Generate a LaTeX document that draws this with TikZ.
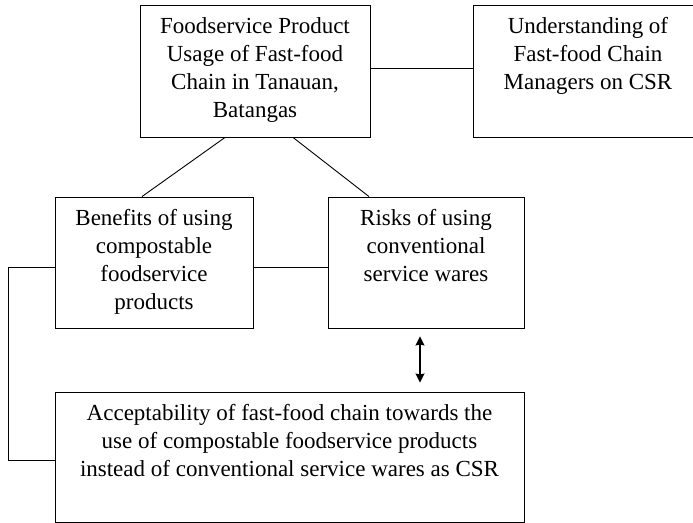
\documentclass[tikz,border=0pt]{standalone}
\usepackage{fontspec}
\setmainfont{Liberation Serif}
\usetikzlibrary{arrows.meta}
\usetikzlibrary{positioning}
\tikzset{box/.style={draw, line width=0.9pt, inner sep=0pt},
  boxtext/.style={align=center, inner sep=0pt, font=\fontsize{23}{28}\selectfont},
  link/.style={line width=0.9pt},
  dbl/.style={line width=1.5pt, {Stealth[length=9pt,width=9pt,inset=1pt]}-{Stealth[length=9pt,width=9pt,inset=1pt]}}}

\begin{document}
\begin{tikzpicture}[x=1pt,y=-1pt]
    \useasboundingbox (0,0) rectangle (693,522);


    \node [box, minimum width=230pt, minimum height=132pt] (usage) at (255,71) {};
    \node [box, minimum width=232pt, minimum height=132pt] (managers) at (589,71) {};
    \node [box, minimum width=198pt, minimum height=131pt] (benefits) at (154,262.5) {};
    \node [box, minimum width=196pt, minimum height=131pt] (risks) at (426,262.5) {};
    \node [box, minimum width=469pt, minimum height=130pt] (acceptance) at (289.5,457) {};


    \node [boxtext, below=13pt of usage.north] (usagetext)
        {Foodservice Product\\Usage of Fast-food\\Chain in Tanauan,\\Batangas};
    \node [boxtext, below=13pt of managers.north, xshift=-1pt] (managerstext)
        {Understanding of\\Fast-food Chain\\Managers on CSR};
    \node [boxtext, below=13pt of benefits.north] (benefitstext)
        {Benefits of using\\compostable\\foodservice\\products};
    \node [boxtext, below=13pt of risks.north] (riskstext)
        {Risks of using\\conventional\\service wares};
    \node [boxtext, below=13pt of acceptance.north] (acceptancetext)
        {Acceptability of fast-food chain towards the\\use of compostable foodservice products\\instead of conventional service wares as CSR};


    \draw [link] ([yshift=3pt]usage.east) -- ([yshift=3pt]managers.west);
    \draw [link] ([xshift=-30pt]usage.south) -- ([xshift=-12pt]benefits.north);
    \draw [link] ([xshift=38pt]usage.south) -- ([xshift=-57pt]risks.north);
    \draw [link] ([yshift=-5pt]benefits.east) -- ([yshift=-5pt]risks.west);
    \draw [link] ([yshift=-5pt]benefits.west) -- ++(-46,0) |- ([yshift=-3pt]acceptance.west);
    \draw [dbl, shorten <=8pt, shorten >=9pt] ([xshift=-6pt]risks.south) -- ([xshift=-6pt]risks.south |- acceptance.north);


\end{tikzpicture}
\end{document}
